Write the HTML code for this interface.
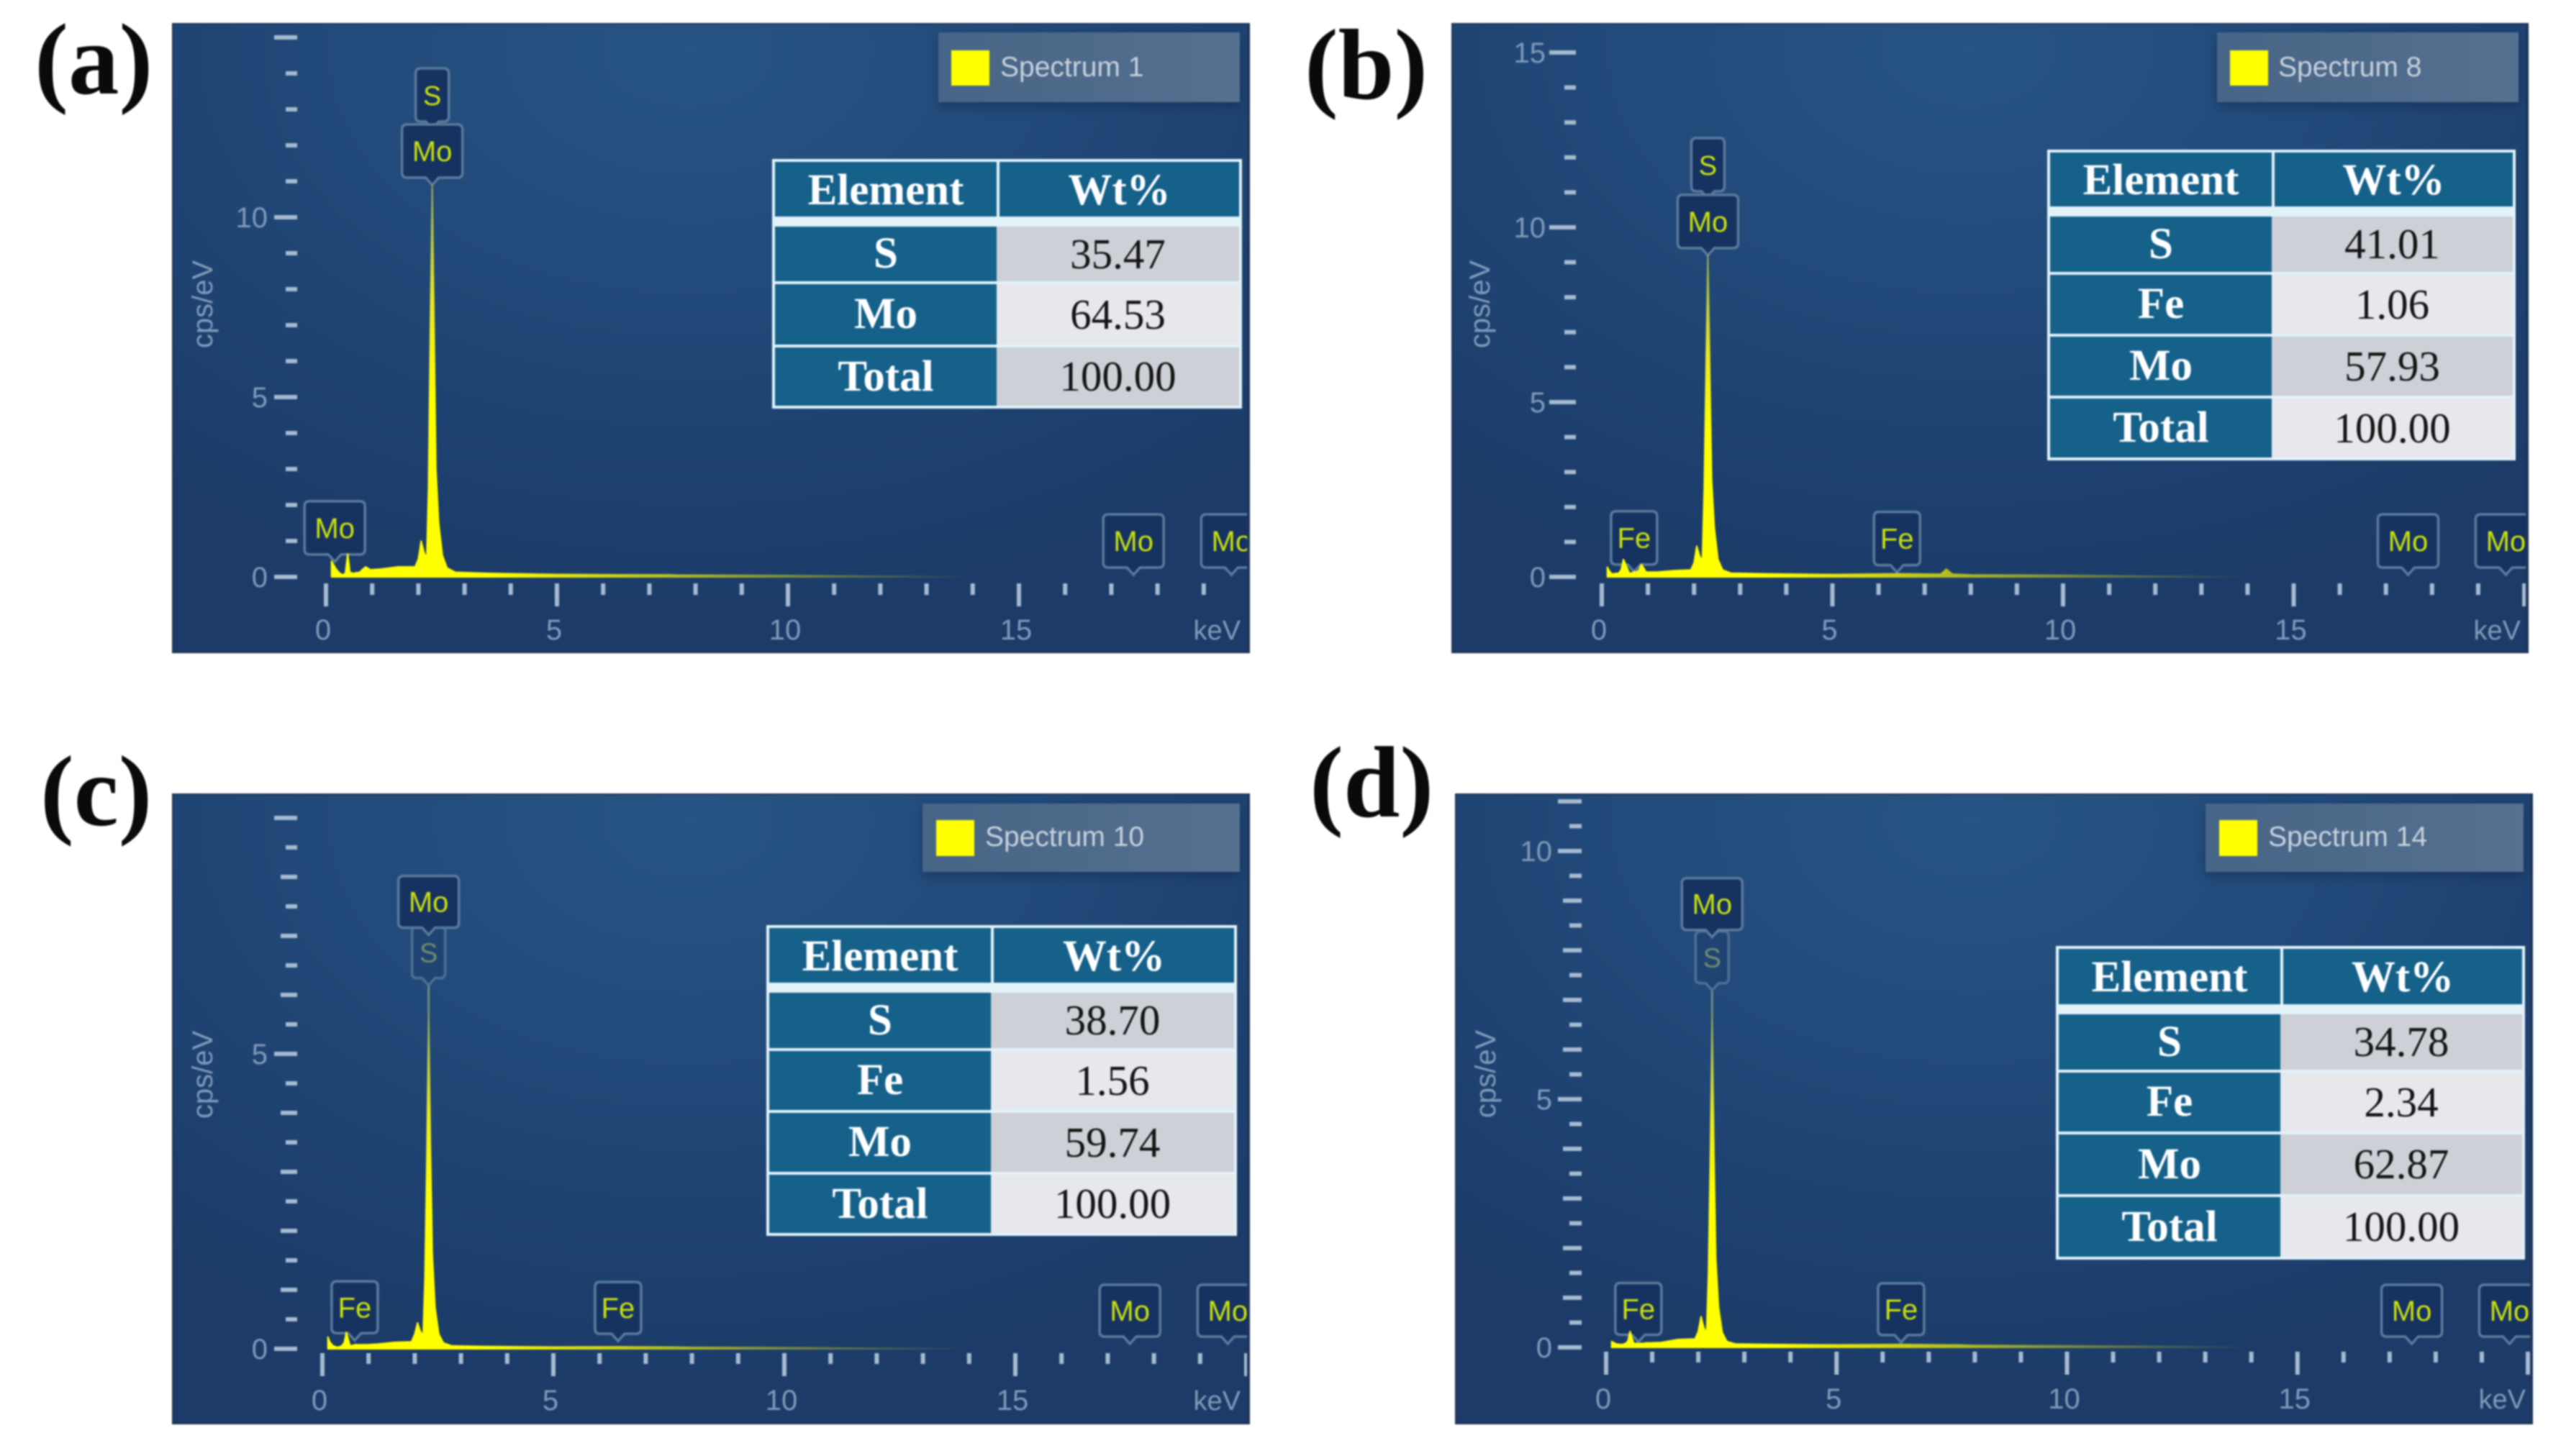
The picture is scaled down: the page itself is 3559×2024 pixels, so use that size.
<!DOCTYPE html>
<html lang="en">
<head>
<meta charset="utf-8">
<title>EDS spectra panels</title>
<style>
html,body{margin:0;padding:0;background:#fff;}
#page{position:relative;width:3559px;height:2024px;overflow:hidden;background:#fff;filter:blur(1.1px);font-family:"Liberation Sans",sans-serif;}
.panel{position:absolute;box-sizing:border-box;border:2px solid #1f3557;border-right-width:4px;border-bottom-width:3px;background:radial-gradient(ellipse 78% 90% at 48% 4%,#275484 0%,#224a7a 42%,#1e4271 72%,#1c3b68 100%);overflow:hidden;}
.panel svg{position:absolute;left:-2px;top:-2px;display:block;}
.legend{position:absolute;height:97px;background:linear-gradient(90deg,#476587,#56708f);box-shadow:0 6px 14px rgba(14,30,62,.4);}
.swatch{position:absolute;width:53px;height:49px;background:#ffff00;}
.legend-text{position:absolute;font-size:39px;line-height:44px;color:#c6d1dc;white-space:nowrap;}
.wt-table{position:absolute;box-sizing:border-box;width:652px;padding:4px;background:#e2f2f9;display:grid;grid-template-columns:308px 1fr;row-gap:4px;font-family:"Liberation Serif",serif;}
.wt-table div{display:flex;align-items:center;justify-content:center;font-size:59px;}
.head{background:#15618a;color:#fff;font-weight:bold;margin-bottom:10px;font-size:61px!important;padding-top:3px;box-sizing:border-box;}
.head.second{border-left:4px solid #e2f2f9;}
.el{background:#15618a;color:#fff;font-weight:bold;font-size:61px!important;}
.g1{background:#cdd0d6;color:#151515;}
.g2{background:#e6e8ec;color:#151515;}
</style>
</head>
<body>
<div id="page">

<svg style="position:absolute;left:0;top:0" width="3559" height="2024">
<text x="48" y="130" font-family="Liberation Serif" font-weight="bold" font-size="141" fill="#0a0a0a">(a)</text>
<text x="1813" y="137" font-family="Liberation Serif" font-weight="bold" font-size="140" fill="#0a0a0a">(b)</text>
<text x="56" y="1147" font-family="Liberation Serif" font-weight="bold" font-size="140" fill="#0a0a0a">(c)</text>
<text x="1820" y="1135" font-family="Liberation Serif" font-weight="bold" font-size="141" fill="#0a0a0a">(d)</text>
</svg>

<!-- Panel a -->
<div class="panel" style="left:239px;top:32px;width:1498px;height:876px">
<svg id="svgA" width="1498" height="876" viewBox="239 32 1498 876"></svg>
</div>
<div class="legend" style="left:1304px;top:45px;width:419px"></div>
<div class="swatch" style="left:1322px;top:70px"></div>
<div class="legend-text" style="left:1390px;top:72px">Spectrum 1</div>
<div class="wt-table" style="left:1073px;top:221px;height:347px;width:653px;grid-template-rows:86px 76px 84px 81px">
<div class="head">Element</div><div class="head second">Wt%</div>
<div class="el">S</div><div class="g1">35.47</div>
<div class="el">Mo</div><div class="g2">64.53</div>
<div class="el">Total</div><div class="g1">100.00</div>
</div>

<!-- Panel b -->
<div class="panel" style="left:2017px;top:32px;width:1497px;height:876px">
<svg id="svgB" width="1497" height="876" viewBox="2017 32 1497 876"></svg>
</div>
<div class="legend" style="left:3081px;top:45px;width:419px"></div>
<div class="swatch" style="left:3099px;top:70px"></div>
<div class="legend-text" style="left:3166px;top:72px">Spectrum 8</div>
<div class="wt-table" style="left:2845px;top:208px;height:432px;width:651px;grid-template-rows:85px 77px 82px 82px 82px">
<div class="head">Element</div><div class="head second">Wt%</div>
<div class="el">S</div><div class="g1">41.01</div>
<div class="el">Fe</div><div class="g2">1.06</div>
<div class="el">Mo</div><div class="g1">57.93</div>
<div class="el">Total</div><div class="g2">100.00</div>
</div>

<!-- Panel c -->
<div class="panel" style="left:239px;top:1103px;width:1498px;height:877px">
<svg id="svgC" width="1498" height="877" viewBox="239 1103 1498 877"></svg>
</div>
<div class="legend" style="left:1282px;top:1117px;width:441px;height:95px"></div>
<div class="swatch" style="left:1301px;top:1140px;height:50px"></div>
<div class="legend-text" style="left:1369px;top:1142px">Spectrum 10</div>
<div class="wt-table" style="left:1065px;top:1286px;height:432px;width:654px;grid-template-rows:86px 77px 82px 82px 81px">
<div class="head">Element</div><div class="head second">Wt%</div>
<div class="el">S</div><div class="g1">38.70</div>
<div class="el">Fe</div><div class="g2">1.56</div>
<div class="el">Mo</div><div class="g1">59.74</div>
<div class="el">Total</div><div class="g2">100.00</div>
</div>

<!-- Panel d -->
<div class="panel" style="left:2022px;top:1103px;width:1498px;height:877px">
<svg id="svgD" width="1498" height="877" viewBox="2022 1103 1498 877"></svg>
</div>
<div class="legend" style="left:3065px;top:1117px;width:442px;height:95px"></div>
<div class="swatch" style="left:3084px;top:1140px;height:50px"></div>
<div class="legend-text" style="left:3152px;top:1142px">Spectrum 14</div>
<div class="wt-table" style="left:2857px;top:1315px;height:436px;width:652px;grid-template-rows:87px 77px 82px 83px 83px">
<div class="head">Element</div><div class="head second">Wt%</div>
<div class="el">S</div><div class="g1">34.78</div>
<div class="el">Fe</div><div class="g2">2.34</div>
<div class="el">Mo</div><div class="g1">62.87</div>
<div class="el">Total</div><div class="g2">100.00</div>
</div>
</div>

<script>
// ---- chart data ----
const energyKeV = [0.12,0.16,0.22,0.3,0.36,0.42,0.47,0.52,0.6,0.66,0.7,0.74,0.8,0.86,0.96,1.2,1.56,1.93,2.0,2.06,2.12,2.18,2.22,2.26,2.3,2.34,2.38,2.44,2.52,2.62,2.8,3.5,5,6.4,7.35,7.47,7.6,8,10,12,14];
const countsA = [0.44,0.35,0.22,0.1,0.06,0.1,0.64,0.12,0.1,0.12,0.12,0.14,0.22,0.28,0.2,0.22,0.28,0.28,0.5,1.0,0.7,0.5,2.5,7,10.9,7,3,1.5,0.6,0.25,0.13,0.1,0.07,0.06,0.06,0.06,0.05,0.05,0.04,0.02,0.01];
const countsB = [0.28,0.18,0.08,0.1,0.1,0.2,0.5,0.35,0.1,0.12,0.15,0.14,0.18,0.36,0.14,0.14,0.18,0.2,0.4,0.88,0.6,0.45,2.5,6,9.2,6,2.8,1.4,0.5,0.2,0.11,0.09,0.07,0.09,0.08,0.22,0.08,0.06,0.05,0.02,0.01];
const countsC = [0.2,0.12,0.06,0.03,0.03,0.05,0.1,0.28,0.05,0.06,0.07,0.07,0.07,0.07,0.07,0.08,0.11,0.12,0.25,0.44,0.3,0.22,1.2,3.2,5.7,3.4,1.6,0.7,0.25,0.1,0.05,0.04,0.03,0.035,0.03,0.03,0.03,0.025,0.02,0.01,0.005];
const countsD = [0.12,0.1,0.07,0.06,0.06,0.08,0.12,0.32,0.08,0.08,0.08,0.08,0.08,0.09,0.09,0.1,0.16,0.17,0.32,0.62,0.4,0.28,1.5,3.8,6.7,3.9,1.8,0.8,0.3,0.12,0.07,0.06,0.05,0.06,0.05,0.05,0.05,0.04,0.03,0.02,0.005];

const xTickValues = [0,5,10,15];
const xTickLabels = ['0','5','10','15'];
const yTickValuesA = [0,5,10];
const yTickLabelsA = ['0','5','10'];
const yTickValuesB = [0,5,10,15];
const yTickLabelsB = ['0','5','10','15'];
const yTickValuesC = [0,5];
const yTickLabelsC = ['0','5'];
const yTickValuesD = [0,5,10];
const yTickLabelsD = ['0','5','10'];

const labelElementsA = ['Mo','S','Mo','Mo','Mo'];
const labelEnergiesA = [0.19,2.3,2.3,17.48,19.6];
const labelElementsB = ['Fe','S','Mo','Fe','Mo','Mo'];
const labelEnergiesB = [0.7,2.3,2.3,6.4,17.48,19.6];
const labelElementsC = ['Fe','S','Mo','Fe','Mo','Mo'];
const labelEnergiesC = [0.7,2.3,2.3,6.4,17.48,19.6];
const labelElementsD = ['Fe','S','Mo','Fe','Mo','Mo'];
const labelEnergiesD = [0.7,2.3,2.3,6.4,17.48,19.6];

// ---- layout (pixels, separate from the data) ----
const panels = [
 {id:'svgA',key:'a',x0:453,xs:64.2,y0:802,ys:50,top:15,minor:1,medium:0,major:5,tickR:413,tickM:397,tickMid:390,tickL:381,labR:372,titleX:295,titleY:423,xT:9,xM:25,xB:41,xLab:87,keVR:1724,boxH:74,ptr:10,
  counts:countsA,yVals:yTickValuesA,yLabs:yTickLabelsA,els:labelElementsA,ens:labelEnergiesA,lifts:[7,78,0,3,3],faintS:false},
 {id:'svgB',key:'b',x0:2226,xs:64.1,y0:802,ys:48.6,top:15,minor:1,medium:0,major:5,tickR:2190,tickM:2174,tickMid:2165,tickL:2153,labR:2148,titleX:2070,titleY:423,xT:9,xM:25,xB:41,xLab:87,keVR:3503,boxH:74,ptr:10,
  counts:countsB,yVals:yTickValuesB,yLabs:yTickLabelsB,els:labelElementsB,ens:labelEnergiesB,lifts:[0,79,0,2,3,3],faintS:false},
 {id:'svgC',key:'c',x0:448,xs:64.2,y0:1875,ys:82,top:9,minor:0.5,medium:1,major:5,tickR:413,tickM:397,tickMid:390,tickL:381,labR:372,titleX:295,titleY:1494,xT:6,xM:21,xB:38,xLab:85,keVR:1724,boxH:72,ptr:10,
  counts:countsC,yVals:yTickValuesC,yLabs:yTickLabelsC,els:labelElementsC,ens:labelEnergiesC,lifts:[6,38,108,8,7,7],faintS:true},
 {id:'svgD',key:'d',x0:2232,xs:64.05,y0:1873,ys:69,top:11,minor:0.5,medium:1,major:5,tickR:2198,tickM:2181,tickMid:2172,tickL:2165,labR:2157,titleX:2078,titleY:1493,xT:6,xM:21,xB:38,xLab:85,keVR:3510,boxH:72,ptr:10,
  counts:countsD,yVals:yTickValuesD,yLabs:yTickLabelsD,els:labelElementsD,ens:labelEnergiesD,lifts:[2,34,108,3,5,5],faintS:true}
];
const boxWidths = {Mo:84,S:46,Fe:64};

const NS = 'http://www.w3.org/2000/svg';
function svgEl(tag, attrs){
  const el = document.createElementNS(NS, tag);
  for(const k in attrs){ el.setAttribute(k, attrs[k]); }
  return el;
}
function countAt(counts, keV){
  if(keV <= energyKeV[0]) return counts[0];
  for(let i=1;i<energyKeV.length;i++){
    if(keV <= energyKeV[i]){
      const t = (keV-energyKeV[i-1])/(energyKeV[i]-energyKeV[i-1]);
      return counts[i-1]+t*(counts[i]-counts[i-1]);
    }
  }
  return 0;
}
const TICK = '#a6bad1';
const AXISTEXT = '#7f9ab8';

function drawPanel(p){
  const svg = document.getElementById(p.id);
  const xScale = v => p.x0 + v*p.xs;
  const yScale = v => p.y0 - v*p.ys;

  // defs
  const defs = svgEl('defs',{});
  const grad = svgEl('linearGradient',{id:'fill-'+p.key,x1:0,y1:0,x2:0,y2:1});
  grad.appendChild(svgEl('stop',{offset:'0','stop-color':'#8fa860'}));
  grad.appendChild(svgEl('stop',{offset:'0.3','stop-color':'#e6e624'}));
  grad.appendChild(svgEl('stop',{offset:'0.55','stop-color':'#ffff00'}));
  defs.appendChild(grad);
  const fade = svgEl('linearGradient',{id:'fade-'+p.key,gradientUnits:'userSpaceOnUse',x1:xScale(3.5),y1:0,x2:xScale(14),y2:0});
  fade.appendChild(svgEl('stop',{offset:'0','stop-color':'#fff'}));
  fade.appendChild(svgEl('stop',{offset:'0.45','stop-color':'#999'}));
  fade.appendChild(svgEl('stop',{offset:'1','stop-color':'#000'}));
  defs.appendChild(fade);
  const mask = svgEl('mask',{id:'mask-'+p.key,maskUnits:'userSpaceOnUse',x:p.x0-100,y:p.y0-900,width:1700,height:1000});
  mask.appendChild(svgEl('rect',{x:p.x0-100,y:p.y0-900,width:1700,height:1000,fill:'url(#fade-'+p.key+')'}));
  defs.appendChild(mask);
  svg.appendChild(defs);

  // y ticks
  const nY = Math.round(p.top/p.minor);
  for(let i=0;i<=nY;i++){
    const v = i*p.minor;
    const isMajor = Math.abs(v/p.major-Math.round(v/p.major))<1e-6;
    const isMed = p.medium>0 && Math.abs(v/p.medium-Math.round(v/p.medium))<1e-6;
    const left = (isMajor || v===p.top) ? p.tickL : (isMed ? p.tickMid : p.tickM);
    const t = svgEl('line',{x1:left,x2:p.tickR,y1:yScale(v),y2:yScale(v),stroke:TICK,'stroke-width':6});
    
    
    svg.appendChild(t);
  }
  p.yVals.forEach((v,i)=>{
    const t = svgEl('text',{x:p.labR,y:yScale(v)+14,'text-anchor':'end','font-size':40,fill:AXISTEXT});
    t.textContent = p.yLabs[i];
    
    
    svg.appendChild(t);
  });

  // y title
  const yt = svgEl('text',{x:p.titleX,y:p.titleY,'text-anchor':'middle','font-size':40,fill:AXISTEXT,transform:'rotate(-90 '+p.titleX+' '+p.titleY+')'});
  yt.textContent = 'cps/eV';
  
  
  svg.appendChild(yt);

  // x ticks
  for(let k=0;k<=20;k++){
    const isMajor = k%5===0;
    const t = svgEl('line',{x1:xScale(k),x2:xScale(k),y1:p.y0+p.xT,y2:p.y0+(isMajor?p.xB:p.xM),stroke:TICK,'stroke-width':6});
    
    
    svg.appendChild(t);
  }
  xTickValues.forEach((v,i)=>{
    const t = svgEl('text',{x:xScale(v)-4,y:p.y0+p.xLab,'text-anchor':'middle','font-size':40,fill:AXISTEXT});
    t.textContent = xTickLabels[i];
    
    
    svg.appendChild(t);
  });
  const kev = svgEl('text',{x:p.keVR,y:p.y0+p.xLab,'text-anchor':'end','font-size':38,fill:AXISTEXT});
  kev.textContent = 'keV';
  
  
  svg.appendChild(kev);

  // element markers
  const peakY = yScale(Math.max.apply(null,p.counts));
  p.els.forEach((el,i)=>{
    const keV = p.ens[i];
    const cx = xScale(keV);
    const tip = yScale(countAt(p.counts,keV)) - p.lifts[i];
    const w = boxWidths[el]; const h = p.boxH; const pt = p.ptr;
    const b = tip-pt; const tp = b-h; const l = cx-w/2; const r = cx+w/2; const rad = 7;
    const faint = p.faintS && el==='S';
    if(faint){
      const stem = svgEl('line',{x1:cx,x2:cx,y1:tip,y2:peakY,stroke:'#6f8c82','stroke-width':3});
      
      
      svg.appendChild(stem);
    }
    const d = 'M'+(l+rad)+' '+tp+' H'+(r-rad)+' Q'+r+' '+tp+' '+r+' '+(tp+rad)+' V'+(b-rad)+' Q'+r+' '+b+' '+(r-rad)+' '+b+' H'+(cx+9)+' L'+cx+' '+tip+' L'+(cx-9)+' '+b+' H'+(l+rad)+' Q'+l+' '+b+' '+l+' '+(b-rad)+' V'+(tp+rad)+' Q'+l+' '+tp+' '+(l+rad)+' '+tp+' Z';
    const box = svgEl('path',{d:d,fill:faint?'#1f4474':'#163261',stroke:'#5a7a9c','stroke-width':3.5,'stroke-opacity':faint?0.8:1});
    
    
    svg.appendChild(box);
    const tx = svgEl('text',{x:cx,y:(tp+b)/2+14,'text-anchor':'middle','font-size':el==='S'?38:40,fill:faint?'#6f8a6c':'#c9e010'});
    tx.textContent = el;
    
    
    svg.appendChild(tx);
  });

  // spectrum
  const pts = [[xScale(energyKeV[0]),yScale(0)]];
  energyKeV.forEach((e,i)=>{ pts.push([xScale(e),yScale(p.counts[i])]); });
  pts.push([xScale(energyKeV[energyKeV.length-1]),yScale(0)]);
  const poly = svgEl('polygon',{points:pts.map(q=>q[0].toFixed(1)+','+q[1].toFixed(1)).join(' '),fill:'url(#fill-'+p.key+')',stroke:'url(#fill-'+p.key+')','stroke-width':2,'stroke-linejoin':'round',mask:'url(#mask-'+p.key+')'});
  
  
  svg.appendChild(poly);
}
panels.forEach(drawPanel);
</script>
</body>
</html>
